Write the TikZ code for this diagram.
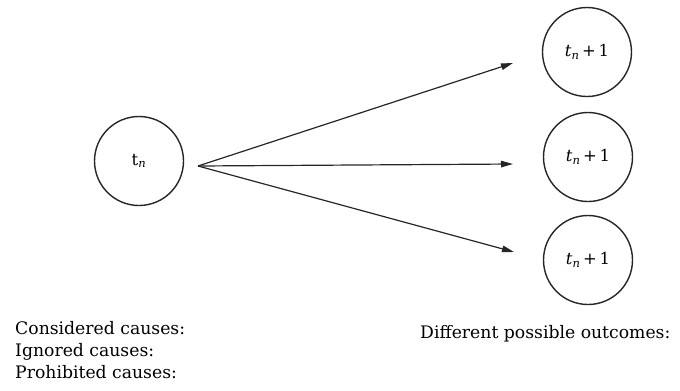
\documentclass[tikz,border=0pt]{standalone}
\usepackage{fontspec}
\setmainfont{DejaVu Serif}
\usetikzlibrary{arrows.meta}
\begin{document}
\begin{tikzpicture}[x=1bp,y=-1bp,
  state/.style={circle,draw=black!85,line width=1.4bp,minimum size=89bp,inner sep=0pt,
    font=\fontsize{16.5}{18}\selectfont},
  branch/.style={draw=black!85,line width=1.2bp,-{Triangle[length=12bp,width=6.5bp]}},
  caption/.style={anchor=base west,inner sep=0pt,font=\fontsize{17.3}{22}\selectfont}]
  \useasboundingbox (0,0) rectangle (680,390);
  % present state and the three possible successors
  \node[state] (tn) at (139,161) {t\textsubscript{\itshape n}};
  \node[state] (o1) at (587,52) {\textit{t}\textsubscript{\itshape n}\,+\,1};
  \node[state] (o2) at (588,157) {\textit{t}\textsubscript{\itshape n}\,+\,1};
  \node[state] (o3) at (588,260) {\textit{t}\textsubscript{\itshape n}\,+\,1};
  % fan of branches
  \coordinate (src) at (198,166);
  \coordinate (e1) at (513,63);
  \coordinate (e2) at (513,164);
  \coordinate (e3) at (514,252);
  \draw[branch] (src) -- (e1);
  \draw[branch] (src) -- (e2);
  \draw[branch] (src) -- (e3);
  % captions
  \node[caption] (c1) at (15,334) {Considered causes:};
  \node[caption] (c2) at (15,356) {Ignored causes:};
  \node[caption] (c3) at (15,378) {Prohibited causes:};
  \node[caption] (c4) at (420,338) {Different possible outcomes:};
\end{tikzpicture}
\end{document}
